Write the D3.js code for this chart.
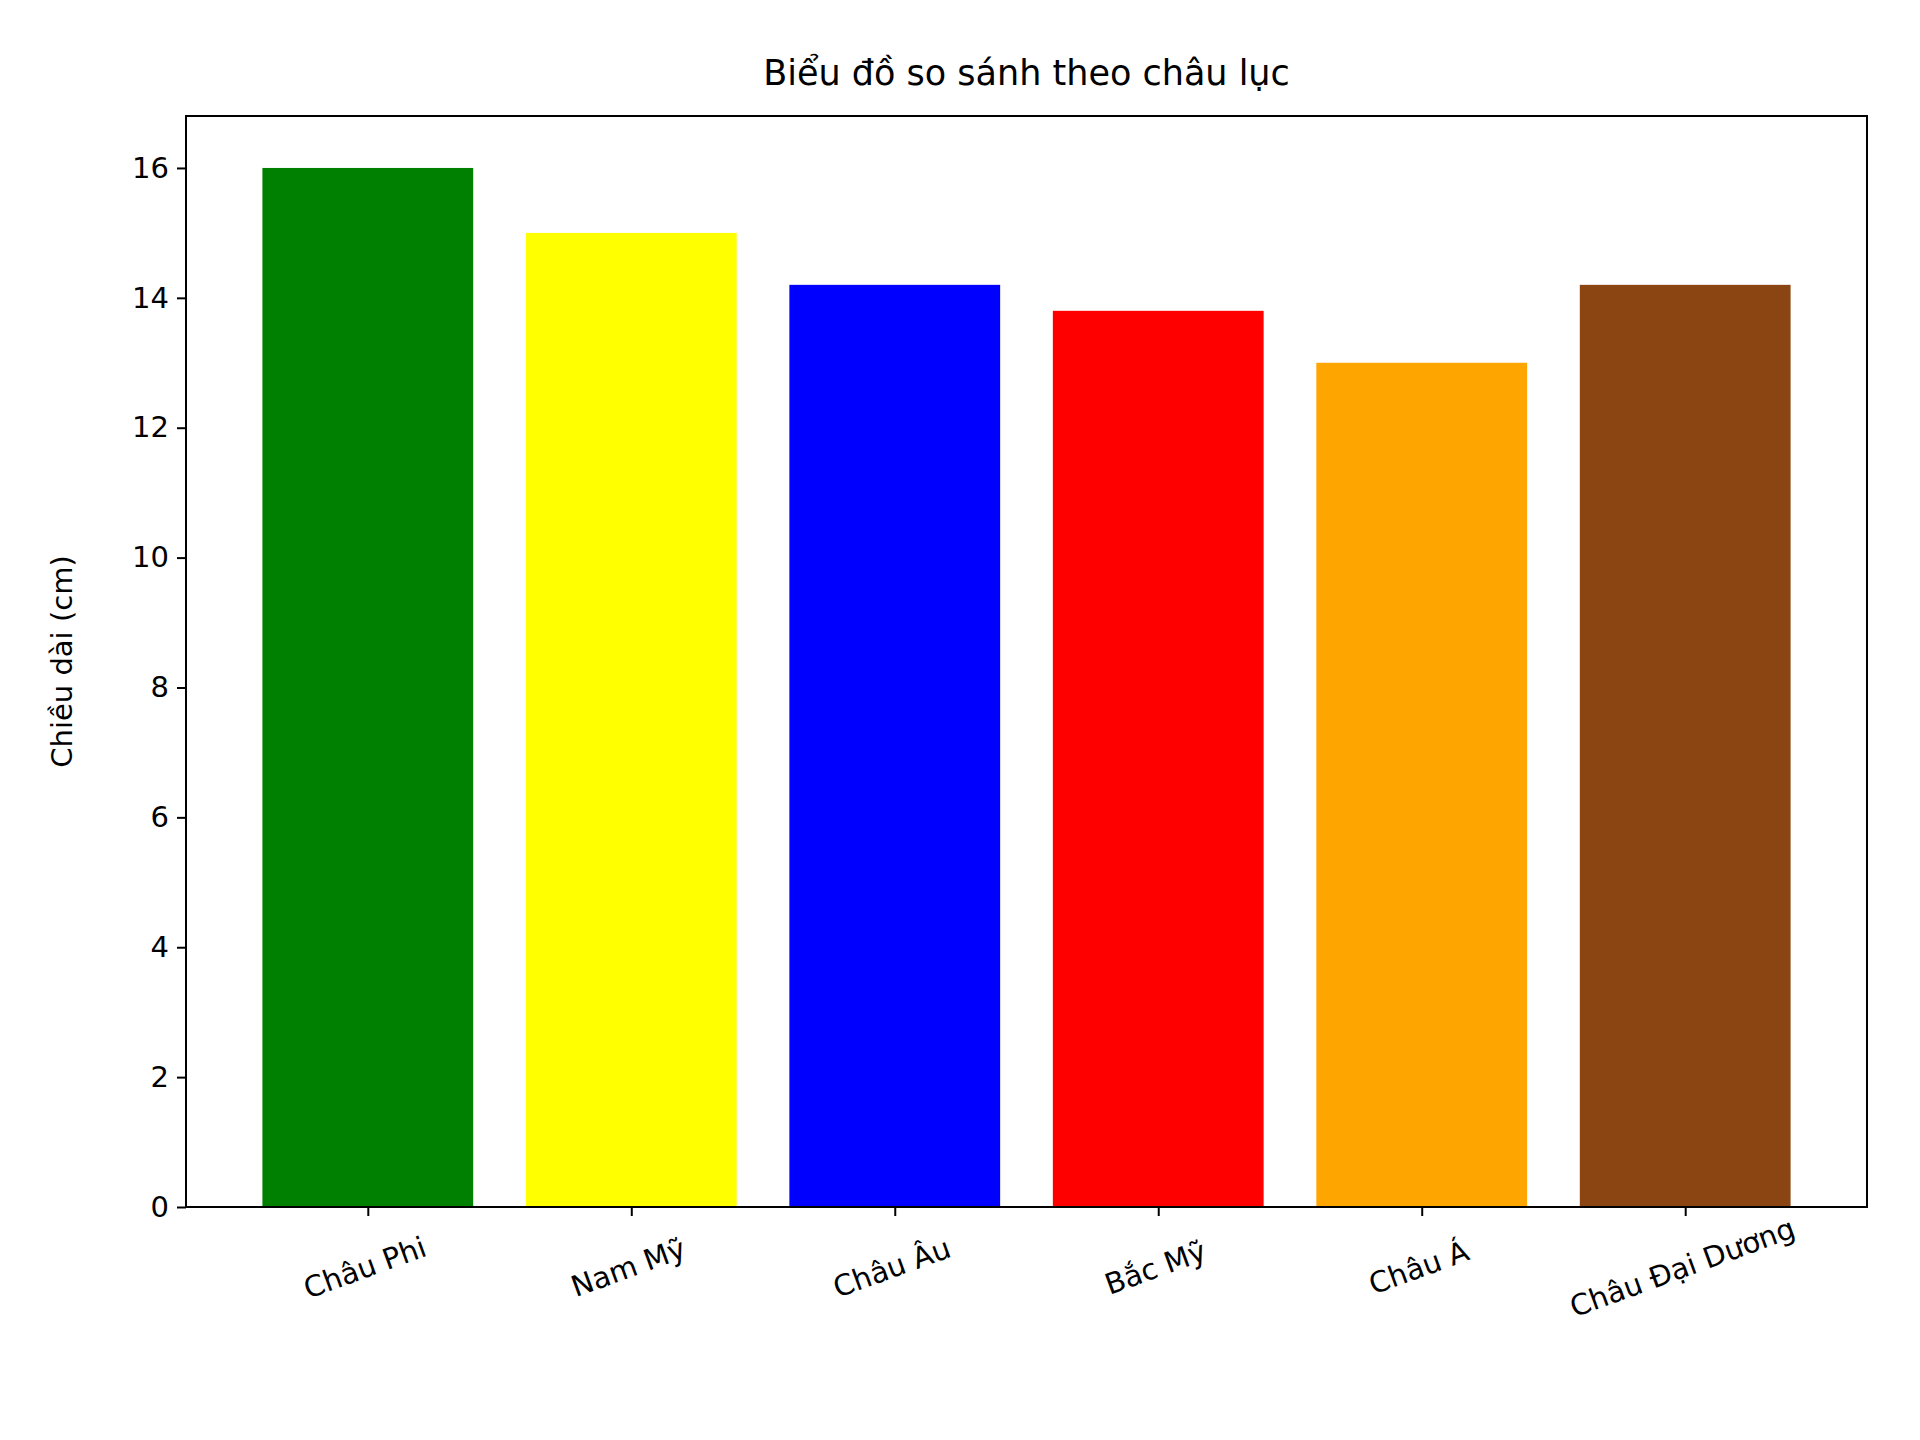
<!DOCTYPE html><html><head><meta charset="utf-8"><script src="https://cdn.jsdelivr.net/npm/d3@7"></script>
<style>body{margin:0;background:#fff}text{font-family:"DejaVu Sans";fill:#000}</style></head><body><svg id="c" width="1920" height="1440"></svg><script>
const categories=["Châu Phi","Nam Mỹ","Châu Âu","Bắc Mỹ","Châu Á","Châu Đại Dương"];
const values=[16,15,14.2,13.8,13,14.2];
const colors=["green","yellow","blue","red","orange","#8B4513"];
const yTicks=[0,2,4,6,8,10,12,14,16];
const svg=d3.select("#c");
const L=186,R=1867,T=116,B=1207;
const x=d3.scaleLinear().domain([-0.69,5.69]).range([L,R]);
const y=d3.scaleLinear().domain([0,16.8]).range([B,T]);
svg.selectAll("rect.b").data(values).enter().append("rect")
 .attr("x",(d,i)=>x(i-0.4)).attr("width",(d,i)=>x(i+0.4)-x(i-0.4))
 .attr("y",d=>y(d)).attr("height",d=>B-y(d)).attr("fill",(d,i)=>colors[i]);
svg.append("rect").attr("x",L).attr("y",T).attr("width",R-L).attr("height",B-T).attr("fill","none").attr("stroke","#000").attr("stroke-width",2);
const ya=svg.append("g").attr("transform",`translate(${L},0)`).call(d3.axisLeft(y).tickValues(yTicks).tickSize(9).tickPadding(8));
ya.select(".domain").remove();
ya.selectAll("text").style("font-size","29px").style("font-family","DejaVu Sans");
ya.selectAll("line").attr("stroke-width",2);
const xa=svg.append("g").attr("transform",`translate(0,${B})`).call(d3.axisBottom(x).tickValues(d3.range(6)).tickSize(9).tickFormat(i=>categories[i]));
xa.select(".domain").remove();
xa.selectAll("line").attr("stroke-width",2);
xa.selectAll("text").style("font-size","29px").style("font-family","DejaVu Sans")
 .attr("text-anchor","middle").attr("dy",null).attr("y",null)
 .attr("transform","translate(0,70) rotate(-20)");
svg.append("text").attr("x",(L+R)/2).attr("y",85).attr("text-anchor","middle").style("font-size","35px").text("Biểu đồ so sánh theo châu lục");
svg.append("text").attr("transform",`translate(72,${(T+B)/2}) rotate(-90)`).attr("text-anchor","middle").style("font-size","29px").text("Chiều dài (cm)");
</script></body></html>
